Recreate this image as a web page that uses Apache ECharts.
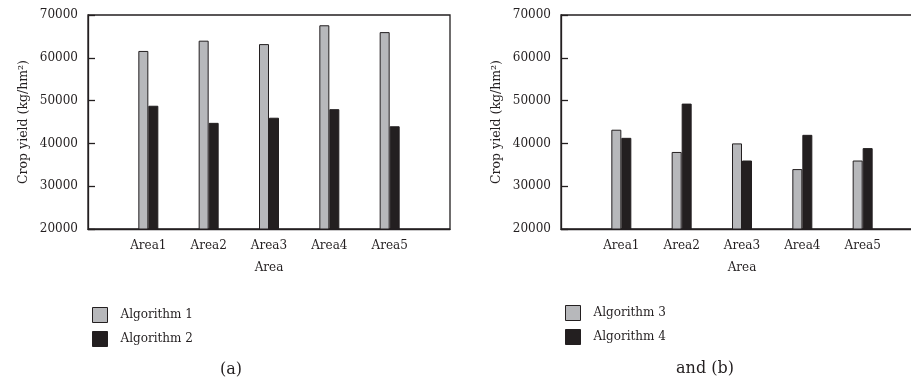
<!DOCTYPE html>
<html>
<head>
<meta charset="utf-8">
<script src="https://cdn.jsdelivr.net/npm/echarts@6/dist/echarts.min.js"></script>
<style>html,body{margin:0;padding:0;background:#fff}#c{width:911px;height:381px}</style>
</head>
<body>
<div id="c"></div>
<script>
var categories = ["Area1", "Area2", "Area3", "Area4", "Area5"];
var alg1 = [61600, 64000, 63200, 67600, 66000];
var alg2 = [48800, 44800, 46000, 48000, 44000];
var alg3 = [43200, 38000, 40000, 34000, 36000];
var alg4 = [41300, 49300, 36000, 42000, 38900];
var yTicks = [20000, 30000, 40000, 50000, 60000, 70000];

var FONT = "DejaVu Serif";
var INK = "#231f20";
var GRAY = "#b7b8bb";

function xAx(gi) {
  return {
    type: "category", gridIndex: gi, data: categories, boundaryGap: false,
    min: -1, max: 5,
    axisLine: {lineStyle: {color: INK, width: 1.3}},
    axisTick: {show: false},
    axisLabel: {color: INK, fontFamily: FONT, fontSize: 12, margin: 11,
      formatter: function (v) { return v; }, interval: 0},
    name: "Area", nameLocation: "middle", nameGap: 33,
    nameTextStyle: {color: INK, fontFamily: FONT, fontSize: 12},
    splitLine: {show: false}
  };
}
function yAx(gi) {
  return {
    type: "value", gridIndex: gi, min: yTicks[0], max: yTicks[yTicks.length - 1], interval: 10000,
    axisLine: {show: true, lineStyle: {color: INK, width: 1.3}},
    axisTick: {show: true, inside: true, length: 7, lineStyle: {color: INK, width: 1.3}},
    axisLabel: {color: INK, fontFamily: FONT, fontSize: 12, margin: 10,
      formatter: function (v) { return String(v); }},
    splitLine: {show: false},
    name: "Crop yield (kg/hm\u00B2)", nameLocation: "middle", nameGap: 58,
    nameTextStyle: {color: INK, fontFamily: FONT, fontSize: 12.5}
  };
}
function bar(name, data, idx, color) {
  return {
    name: name, type: "bar", data: data, xAxisIndex: idx, yAxisIndex: idx,
    barWidth: 10, barGap: "0%",
    itemStyle: {color: color, borderColor: INK, borderWidth: 1}
  };
}
var chart = echarts.init(document.getElementById("c"), null, {renderer: "canvas"});
chart.setOption({
  animation: false,
  backgroundColor: "#fff",
  grid: [
    {left: 88, top: 15, width: 362, height: 214, show: true, borderColor: INK, borderWidth: 1.3, backgroundColor: "transparent", outerBoundsMode: "none", containLabel: false},
    {left: 561, top: 15, width: 362, height: 214, show: true, borderColor: INK, borderWidth: 1.3, backgroundColor: "transparent", outerBoundsMode: "none", containLabel: false}
  ],
  xAxis: [xAx(0), xAx(1)],
  yAxis: [yAx(0), yAx(1)],
  legend: [
    {data: ["Algorithm 1", "Algorithm 2"], orient: "vertical", left: 87, top: 302,
     itemWidth: 15, itemHeight: 15, itemGap: 8, icon: "rect",
     itemStyle: {borderColor: INK, borderWidth: 1},
     textStyle: {color: INK, fontFamily: FONT, fontSize: 12, padding: [0, 0, 0, 8]}},
    {data: ["Algorithm 3", "Algorithm 4"], orient: "vertical", left: 560, top: 300,
     itemWidth: 15, itemHeight: 15, itemGap: 8, icon: "rect",
     itemStyle: {borderColor: INK, borderWidth: 1},
     textStyle: {color: INK, fontFamily: FONT, fontSize: 12, padding: [0, 0, 0, 8]}}
  ],
  title: [
    {text: "(a)", left: 226, top: 357, textAlign: "center",
     textStyle: {color: INK, fontFamily: FONT, fontSize: 16, fontWeight: "normal"}},
    {text: "and (b)", left: 700, top: 356, textAlign: "center",
     textStyle: {color: INK, fontFamily: FONT, fontSize: 16, fontWeight: "normal"}}
  ],
  series: [
    bar("Algorithm 1", alg1, 0, GRAY),
    bar("Algorithm 2", alg2, 0, INK),
    bar("Algorithm 3", alg3, 1, GRAY),
    bar("Algorithm 4", alg4, 1, INK)
  ]
});
</script>
</body>
</html>
